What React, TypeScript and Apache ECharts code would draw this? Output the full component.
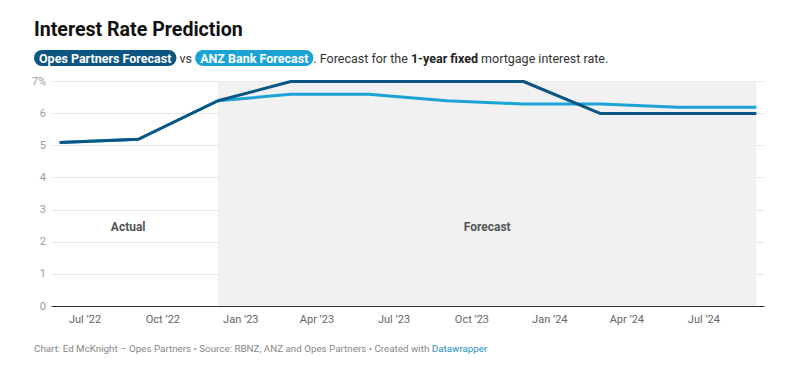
import React, { useEffect, useRef } from "react";
import * as echarts from "echarts";

const dates = ["2022-06-01", "2022-09-02", "2022-12-05", "2023-03-01", "2023-06-01", "2023-09-01", "2023-12-01", "2024-03-01", "2024-06-01", "2024-09-01"];
const opesValues = [5.1, 5.2, 6.4, 7, 7, 7, 7, 6, 6, 6];
const anzValues = [5.1, 5.2, 6.4, 6.6, 6.6, 6.4, 6.3, 6.3, 6.2, 6.2];
const tickDates = ["2022-07-01", "2022-10-01", "2023-01-01", "2023-04-01", "2023-07-01", "2023-10-01", "2024-01-01", "2024-04-01", "2024-07-01"];
const monthNames = ["Jan", "Feb", "Mar", "Apr", "May", "Jun", "Jul", "Aug", "Sep", "Oct", "Nov", "Dec"];
const forecastStart = "2022-12-05";
const forecastEnd = "2024-09-01";
const actualLabelRange = ["2022-05-23", "2022-11-19"];

const OPES = "#0a5581";
const ANZ = "#1ba3d6";
const FONT = "Roboto, 'Noto Sans', sans-serif";

function ts(s: string): number {
  const [y, m, d] = s.split("-").map(Number);
  return Date.UTC(y, m - 1, d);
}

export default function App() {
  const ref = useRef<HTMLDivElement>(null);
  useEffect(() => {
    if (!ref.current) return;
    const chart = echarts.init(ref.current, null, { renderer: "svg" });
    chart.setOption({
      animation: false,
      textStyle: { fontFamily: FONT },
      title: [
        {
          text: "Interest Rate Prediction",
          left: 34,
          top: 19,
          padding: 0,
          textStyle: { fontSize: 19.6, fontWeight: "bold", color: "#111", fontFamily: FONT },
        },
        {
          text:
            "{a|Opes Partners Forecast} vs {b|ANZ Bank Forecast}. Forecast for the {c|1-year fixed} mortgage interest rate.",
          left: 34,
          top: 50,
          padding: 0,
          textStyle: {
            fontSize: 12.5,
            fontWeight: "normal",
            color: "#333",
            fontFamily: FONT,
            rich: {
              a: { backgroundColor: OPES, color: "#fff", fontWeight: "bold", fontSize: 12.5, borderRadius: 8, padding: [2, 5, 1, 5], fontFamily: FONT },
              b: { backgroundColor: ANZ, color: "#fff", fontWeight: "bold", fontSize: 12.5, borderRadius: 8, padding: [2, 5, 1, 5], fontFamily: FONT },
              c: { fontWeight: "bold", color: "#222", fontSize: 12.5, fontFamily: FONT },
            },
          },
        },
        {
          text: "Chart: Ed McKnight – Opes Partners • Source: RBNZ, ANZ and Opes Partners • Created with {d|Datawrapper}",
          left: 34,
          top: 343,
          padding: 0,
          textStyle: {
            fontSize: 9.8,
            fontWeight: "normal",
            color: "#888",
            fontFamily: FONT,
            rich: { d: { color: "#2a8fc6", fontSize: 9.8, fontFamily: FONT } },
          },
        },
      ],
      grid: { left: 52, right: 32, top: 81.5, bottom: 65, containLabel: false, outerBoundsMode: "none" },
      xAxis: {
        type: "value",
        min: ts("2022-05-23"),
        max: ts("2024-09-10"),
        axisLine: { show: true, lineStyle: { color: "#333", width: 1 } },
        axisTick: { show: false },
        splitLine: { show: false },
        axisLabel: {
          customValues: tickDates.map(ts),
          color: "#666",
          fontSize: 11,
          margin: 8,
          fontFamily: FONT,
          hideOverlap: false,
          formatter: (v: number) => {
            const d = new Date(v);
            return monthNames[d.getUTCMonth()] + " ’" + String(d.getUTCFullYear()).slice(2);
          },
        },
      },
      yAxis: {
        type: "value",
        min: 0,
        max: 7,
        interval: 1,
        axisLine: { show: false },
        axisTick: { show: false },
        splitLine: { show: true, lineStyle: { color: "#e6e6e6", width: 1 } },
        axisLabel: {
          color: "#999",
          fontSize: 11,
          margin: 6,
          fontFamily: FONT,
          formatter: (v: number) => (v === 7 ? "7%" : String(v)),
        },
      },
      series: [
        {
          name: "ANZ Bank Forecast",
          type: "line",
          data: dates.map((d, i) => [ts(d), anzValues[i]]),
          symbol: "none",
          lineStyle: { color: ANZ, width: 3 },
          itemStyle: { color: ANZ },
          z: 2,
          markArea: {
            silent: true,
            itemStyle: { color: "#f1f1f1" },
            label: {
              show: true,
              position: "inside",
              offset: [0, 33],
              color: "#555",
              fontWeight: "bold",
              fontSize: 12,
              fontFamily: FONT,
            },
            data: [
              [{ name: "Forecast", xAxis: ts(forecastStart) }, { xAxis: ts(forecastEnd) }],
              [
                { name: "Actual", xAxis: ts(actualLabelRange[0]), itemStyle: { color: "rgba(0,0,0,0)" } },
                { xAxis: ts(actualLabelRange[1]) },
              ],
            ],
          },
        },
        {
          name: "Opes Partners Forecast",
          type: "line",
          data: dates.map((d, i) => [ts(d), opesValues[i]]),
          symbol: "none",
          lineStyle: { color: OPES, width: 3 },
          itemStyle: { color: OPES },
          z: 3,
        },
      ],
    });
    return () => chart.dispose();
  }, []);
  return <div ref={ref} style={{ position: "absolute", left: 0, top: 0, width: 796, height: 371 }} />;
}
